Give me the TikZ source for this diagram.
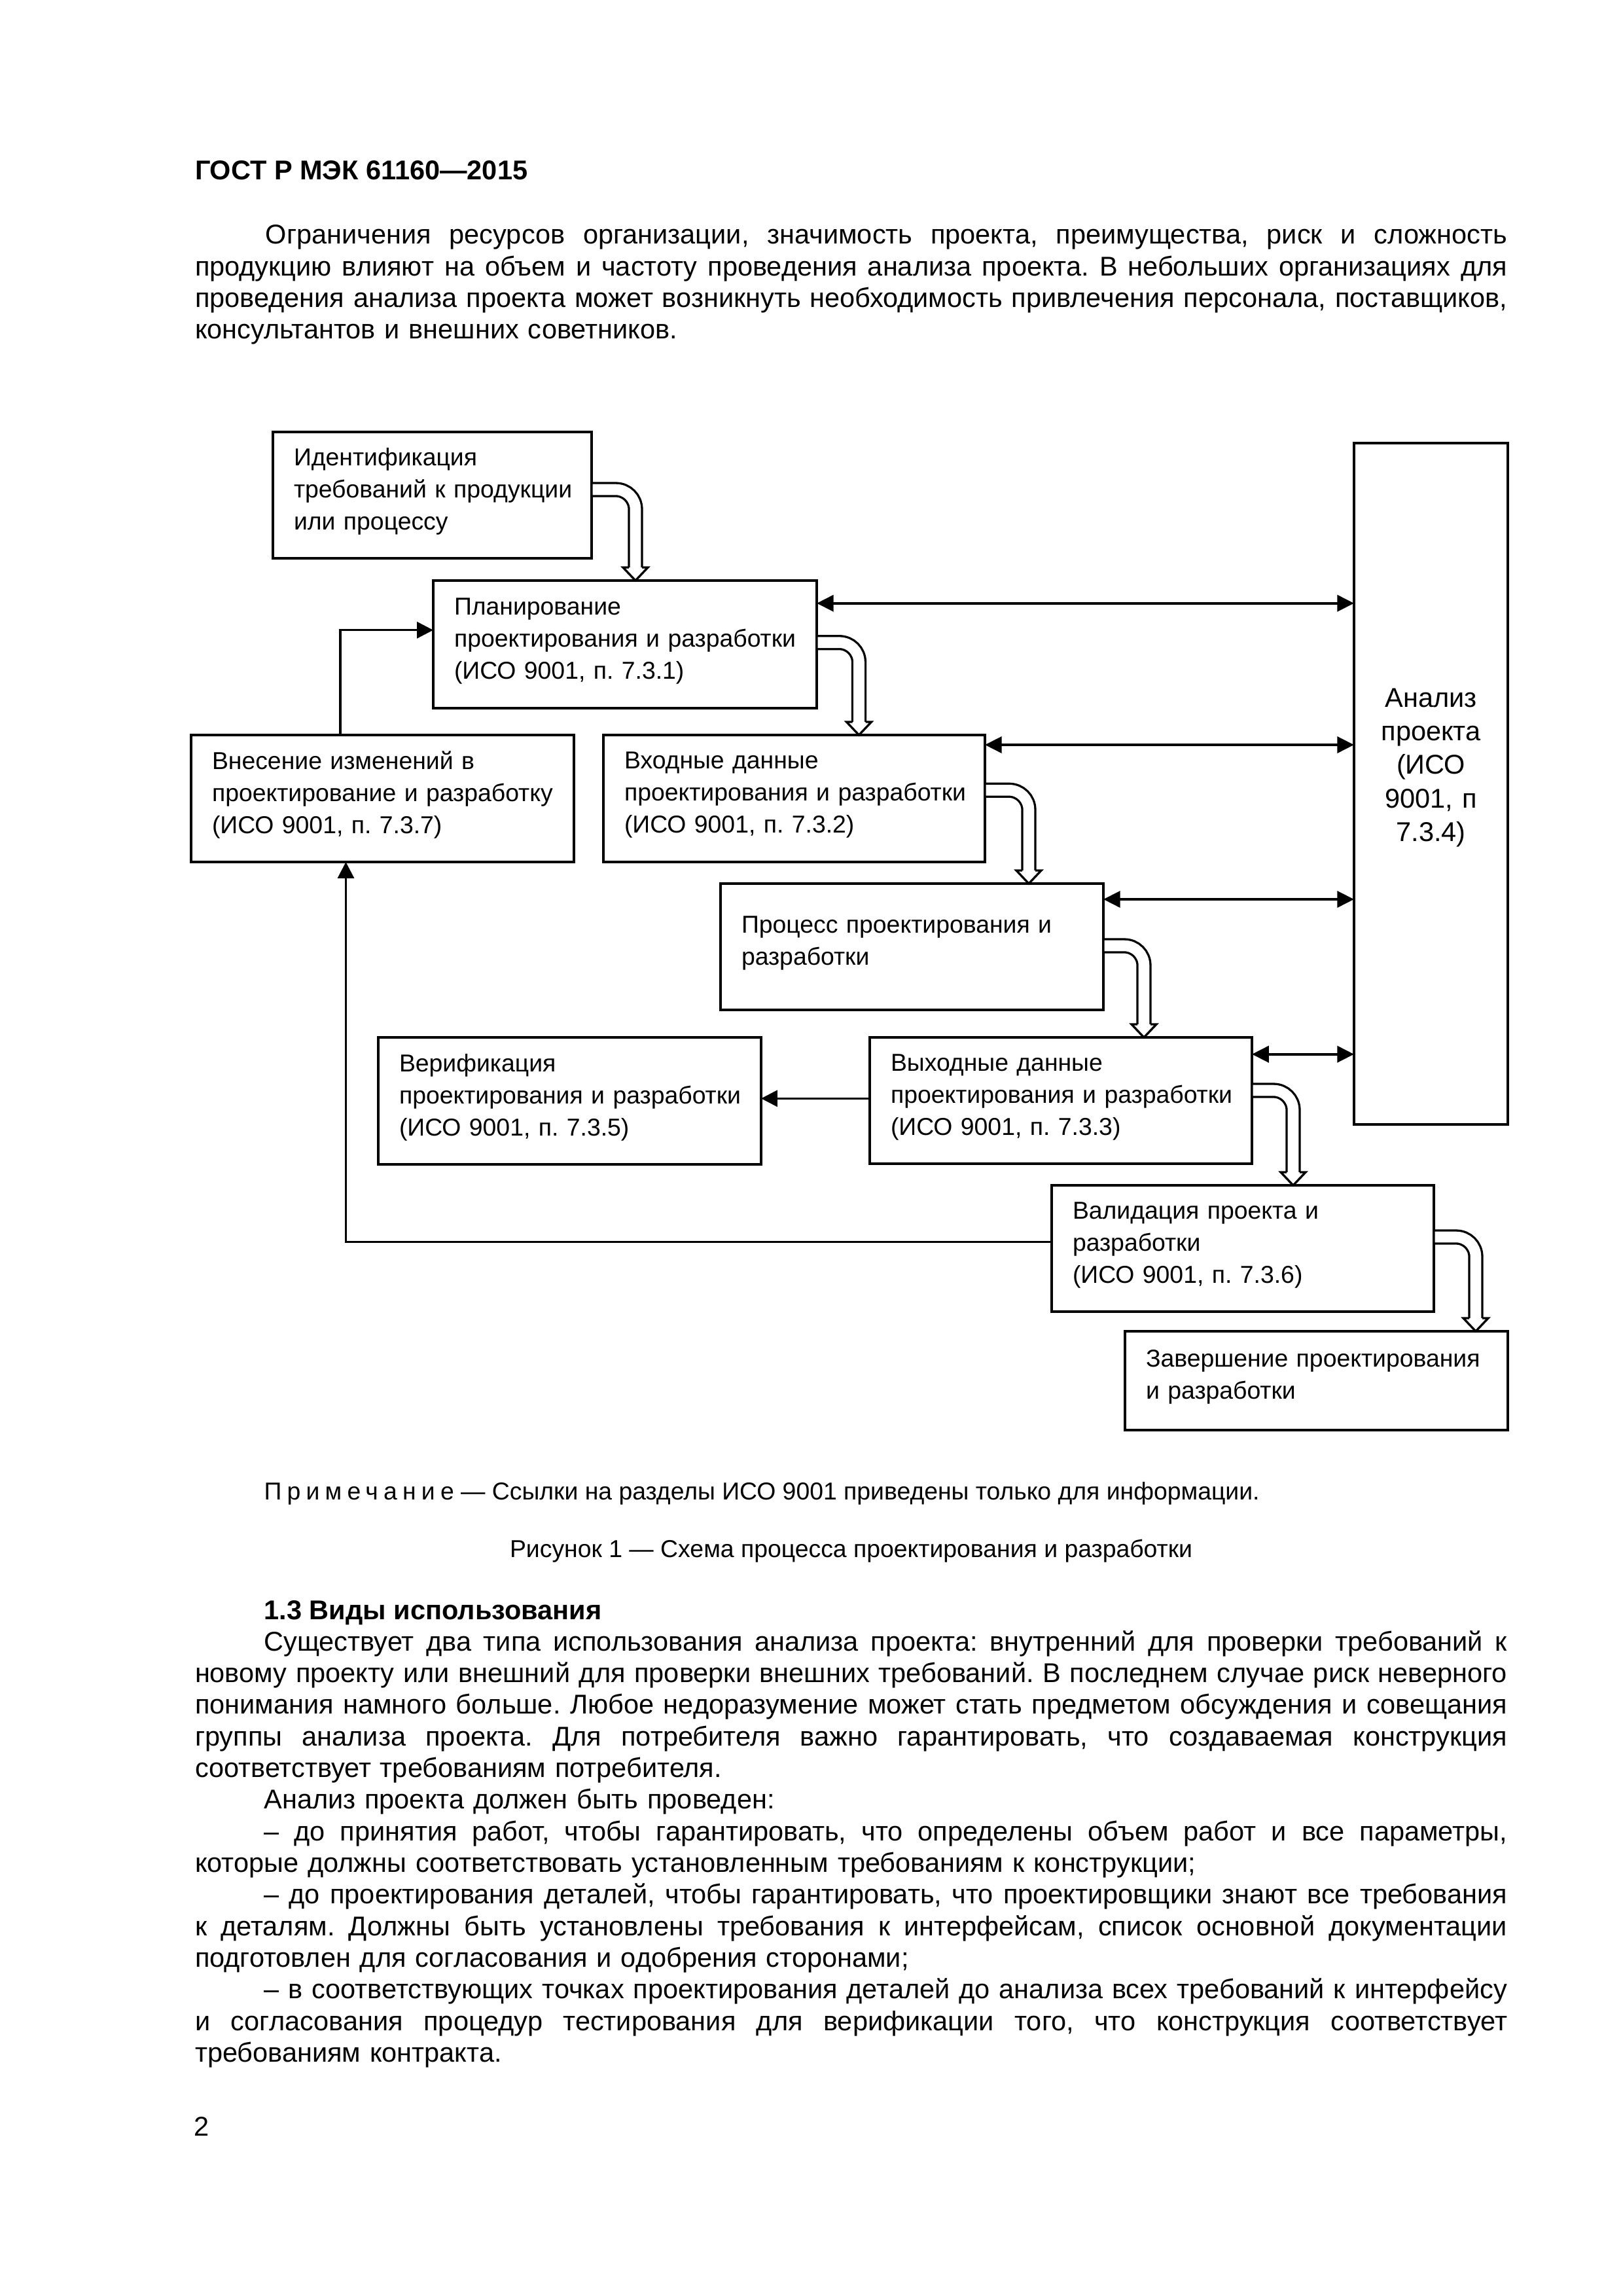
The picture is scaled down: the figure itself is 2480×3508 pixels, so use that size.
\documentclass[tikz,border=0pt]{standalone}
\usepackage{fontspec}
\setmainfont{Liberation Sans}
\usetikzlibrary{arrows.meta,calc}
\newdimen\pxu \pxu=0.24093pt
\newdimen\twd \twd=2005\pxu
\newcommand\mybody{\fontsize{10}{11.64}\selectfont}
\newcommand\mybox{\fontsize{9}{11.8}\selectfont}
\newcommand\myan{\fontsize{10}{12.3}\selectfont}
\newcommand\myed{\rule[-4.5pt]{0pt}{0pt}}
\newcommand\jline[1]{\hbox to\twd{\spaceskip=\fontdimen2\font plus 1fil minus \fontdimen4\font\relax\strut #1}\par}
\newcommand\nline[1]{\hbox{\strut #1}\par}
\tikzset{
  blk/.style={draw=black, line width=0.8pt, rectangle, outer sep=0pt,
    inner xsep=32\pxu, inner ysep=0pt, align=left, anchor=north west, font=\mybox},
  txt/.style={inner sep=0pt, outer sep=0pt, anchor=north west, text width=2005\pxu, font=\mybody},
  lbl/.style={inner sep=0pt, outer sep=0pt, anchor=base west},
  pipe/.style={draw=black, line width=0.8pt, double=white, double distance=4pt, rounded corners=7.23pt},
  pipehead/.style={fill=white, draw=black, line width=0.8pt, line join=miter},
  conn/.style={draw=black, line width=0.85pt, -{Triangle[length=6pt,width=6pt]}},
  bi/.style={draw=black, line width=1pt, {Triangle[length=6.2pt,width=6pt]}-{Triangle[length=6.2pt,width=6pt]}}
}
\newcommand\hollowarrow[4]{%
  \coordinate (#1-out) at ($(#1.north east)+(1.5,#2)$);
  \coordinate (#3-in) at ($(#3.north west)+(#4,0)$);
  \draw[pipe] (#1-out) -| ($(#3-in)+(0,-20)$);
  \filldraw[pipehead] ($(#3-in)+(-10,-20)$) -- ($(#3-in)+(-19,-20)$) -- (#3-in)
     -- ($(#3-in)+(19,-20)$) -- ($(#3-in)+(10,-20)$);
}
\begin{document}
\frenchspacing
\begin{tikzpicture}[x=0.24093pt, y=-0.24093pt]
\useasboundingbox (0,0) rectangle (2480,3508);
\fill[white] (0,0) rectangle (2480,3508);

% header and first paragraph
\node[lbl, font=\fontsize{10}{12}\selectfont\bfseries] (hdr) at (298,274) {ГОСТ Р МЭК 61160—2015};
\node[txt] (par1) at (298,338.9) {%
\jline{\hskip26pt Ограничения ресурсов организации, значимость проекта, преимущества, риск и сложность}%
\jline{продукцию влияют на объем и частоту проведения анализа проекта. В небольших организациях для}%
\jline{проведения анализа проекта может возникнуть необходимость привлечения персонала, поставщиков,}%
\nline{консультантов и внешних советников.}};

% boxes
\node[blk, minimum width=487\pxu, minimum height=193\pxu, text width=423\pxu] (ident) at (417,660)
  {Идентификация\\требований~к~продукции\\или~процессу\myed};
\node[blk, minimum width=586\pxu, minimum height=195\pxu, text width=522\pxu] (plan) at (662,887)
  {Планирование\\проектирования~и~разработки\\(ИСО~9001,~п.~7.3.1)\myed};
\node[blk, minimum width=585\pxu, minimum height=194\pxu, text width=521\pxu] (vnes) at (292,1123)
  {Внесение~изменений~в\\проектирование~и~разработку\\(ИСО~9001,~п.~7.3.7)\myed};
\node[blk, minimum width=583\pxu, minimum height=194\pxu, text width=519\pxu] (vhod) at (922,1123)
  {Входные~данные\\проектирования~и~разработки\\(ИСО~9001,~п.~7.3.2)\myed};
\node[blk, minimum width=585\pxu, minimum height=193\pxu, text width=521\pxu] (proc) at (1101,1350)
  {Процесс~проектирования~и\\разработки\myed};
\node[blk, minimum width=585\pxu, minimum height=194\pxu, text width=521\pxu] (verif) at (578,1585)
  {Верификация\\проектирования~и~разработки\\(ИСО~9001,~п.~7.3.5)\myed};
\node[blk, minimum width=584\pxu, minimum height=193\pxu, text width=520\pxu] (vyh) at (1329,1585)
  {Выходные~данные\\проектирования~и~разработки\\(ИСО~9001,~п.~7.3.3)\myed};
\node[blk, minimum width=584\pxu, minimum height=193\pxu, text width=520\pxu] (valid) at (1607,1811)
  {Валидация~проекта~и\\разработки\\(ИСО~9001,~п.~7.3.6)\myed};
\node[blk, minimum width=585\pxu, minimum height=151\pxu, text width=521\pxu] (zav) at (1719,2034)
  {Завершение~проектирования\\и~разработки\myed};
\node[blk, align=center, inner xsep=0pt, font=\myan, minimum width=235\pxu, minimum height=1041\pxu,
  text width=235\pxu] (analiz) at (2069,677)
  {Анализ\\проекта\\(ИСО\\9001, п\\7.3.4)\rule[-13.9pt]{0pt}{0pt}};

% hollow flow arrows
\hollowarrow{ident}{88}{plan}{309}
\hollowarrow{plan}{94.7}{vhod}{390.5}
\hollowarrow{vhod}{84.3}{proc}{471}
\hollowarrow{proc}{95}{vyh}{419}
\hollowarrow{vyh}{81}{valid}{369}
\hollowarrow{valid}{79}{zav}{536}

% links with design review
\coordinate (r1) at ($(plan.north east)+(0,34.7)$);
\coordinate (r2) at ($(vhod.north east)+(0,15)$);
\coordinate (r3) at ($(proc.north east)+(0,24)$);
\coordinate (r4) at ($(vyh.north east)+(0,25.7)$);
\draw[bi] (r1) -- (r1 -| analiz.west);
\draw[bi] (r2) -- (r2 -| analiz.west);
\draw[bi] (r3) -- (r3 -| analiz.west);
\draw[bi] (r4) -- (r4 -| analiz.west);

% other connectors
\coordinate (h1) at ($(vyh.north west)+(0,93.3)$);
\draw[conn] (h1) -- (h1 -| verif.east);
\coordinate (f1) at ($(valid.north west)+(0,86.7)$);
\coordinate (f2) at ($(vnes.south west)+(236.5,0)$);
\draw[conn] (f1) -| (f2);
\coordinate (g1) at ($(vnes.north west)+(228,0)$);
\coordinate (g2) at ($(plan.north west)+(0,75.7)$);
\draw[conn] (g1) |- (g2);

% note and caption
\node[lbl, font=\fontsize{9}{11}\selectfont] (note) at (403.6,2291.7)
  {{\addfontfeatures{LetterSpace=22}Примечание} — Ссылки на разделы ИСО 9001 приведены только для информации.};
\node[inner sep=0pt, anchor=base, font=\fontsize{9}{11}\selectfont] (cap) at (1300.5,2379)
  {Рисунок 1 — Схема процесса проектирования и разработки};

% section 1.3
\node[lbl, font=\fontsize{10}{12}\selectfont\bfseries] (sec) at (403.6,2474) {1.3 Виды использования};
\node[txt] (par2) at (298,2488.5) {%
\jline{\hskip25.4pt Существует два типа использования анализа проекта: внутренний для проверки требований к}%
\jline{новому проекту или внешний для проверки внешних требований. В последнем случае риск неверного}%
\jline{понимания намного больше. Любое недоразумение может стать предметом обсуждения и совещания}%
\jline{группы анализа проекта. Для потребителя важно гарантировать, что создаваемая конструкция}%
\nline{соответствует требованиям потребителя.}%
\nline{\hskip25.4pt Анализ проекта должен быть проведен:}%
\jline{\hskip25.4pt – до принятия работ, чтобы гарантировать, что определены объем работ и все параметры,}%
\nline{которые должны соответствовать установленным требованиям к конструкции;}%
\jline{\hskip25.4pt – до проектирования деталей, чтобы гарантировать, что проектировщики знают все требования}%
\jline{к деталям. Должны быть установлены требования к интерфейсам, список основной документации}%
\nline{подготовлен для согласования и одобрения сторонами;}%
\jline{\hskip25.4pt – в соответствующих точках проектирования деталей до анализа всех требований к интерфейсу}%
\jline{и согласования процедур тестирования для верификации того, что конструкция соответствует}%
\nline{требованиям контракта.}};

\node[lbl, font=\mybody] (pnum) at (296,3263) {2};
\end{tikzpicture}
\end{document}
